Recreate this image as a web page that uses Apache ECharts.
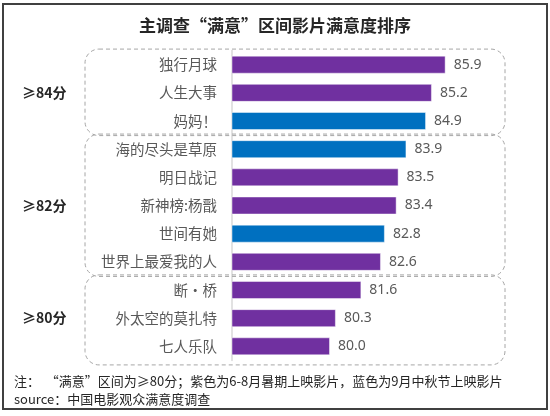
<!DOCTYPE html>
<html lang="zh-CN">
<head>
    <meta charset="UTF-8">
    <title>主调查满意区间影片满意度排序</title>
    <script src="https://cdn.jsdelivr.net/npm/echarts@6/dist/echarts.min.js"></script>
    <style>
        html, body { margin: 0; padding: 0; background: #fff; }
        #container { width: 550px; height: 416px; }
    </style>
</head>
<body>
<div id="container"></div>
<script type="text/javascript">
    // 影片（从上到下）
    const films = ['独行月球', '人生大事', '妈妈！', '海的尽头是草原', '明日战记', '新神榜:杨戬',
        '世间有她', '世界上最爱我的人', '断·桥', '外太空的莫扎特', '七人乐队'];
    // 满意度得分
    const scores = [85.9, 85.2, 84.9, 83.9, 83.5, 83.4, 82.8, 82.6, 81.6, 80.3, 80.0];
    // 上映档期：summer = 6-8月暑期，autumn = 9月中秋节
    const periods = ['summer', 'summer', 'autumn', 'autumn', 'summer', 'summer',
        'autumn', 'summer', 'summer', 'summer', 'summer'];
    // 分段：名称、起止行号
    const groupNames = ['≥84分', '≥82分', '≥80分'];
    const groupStart = [0, 3, 8];
    const groupEnd = [2, 7, 10];

    const periodColor = {summer: '#7030A0', autumn: '#0070C0'};
    const CJK = '"Noto Sans CJK SC", "Noto Sans", sans-serif';

    let dom = document.getElementById('container');
    let myChart = echarts.init(dom, null, {renderer: 'canvas'});

    let option = {
        animation: false,
        backgroundColor: '#fff',
        title: {
            text: '主调查“满意”区间影片满意度排序',
            left: 'center',
            top: 12,
            textStyle: {fontFamily: CJK, fontSize: 17, fontWeight: 'bold', color: '#262626'}
        },
        grid: {left: 232, right: 24, top: 50.6, bottom: 416 - 360.4, containLabel: false},
        xAxis: {
            type: 'value',
            min: 75,
            max: 90,
            show: false
        },
        yAxis: {
            type: 'category',
            inverse: true,
            data: films,
            axisLine: {show: true, lineStyle: {color: '#d9d9d9', width: 1.5}},
            axisTick: {show: false},
            axisLabel: {fontFamily: CJK, fontSize: 14.5, color: '#595959', margin: 15}
        },
        series: [{
            type: 'bar',
            barWidth: 18,
            data: scores.map((v, i) => ({
                value: v,
                itemStyle: {color: periodColor[periods[i]]}
            })),
            itemStyle: {borderColor: 'rgba(255,255,255,0.45)', borderWidth: 1},
            label: {
                show: true,
                position: 'right',
                distance: 8,
                formatter: p => p.value.toFixed(1),
                fontFamily: '"Noto Sans", sans-serif',
                fontSize: 14,
                color: '#595959'
            }
        }]
    };
    myChart.setOption(option);

    // 分段虚线框和分段标签，位置从类目轴换算
    let graphic = [];
    groupNames.forEach((name, g) => {
        let y0 = myChart.convertToPixel({yAxisIndex: 0}, groupStart[g]);
        let y1 = myChart.convertToPixel({yAxisIndex: 0}, groupEnd[g]);
        let half = 14.1;
        let top = y0 - half - (g === 0 ? 1.5 : 1);
        let bottom = y1 + half + (g === groupNames.length - 1 ? 4.5 : 0.5);
        graphic.push({
            type: 'rect',
            shape: {x: 85, y: top, width: 420, height: bottom - top, r: 14},
            style: {fill: 'none', stroke: '#a6a6a6', lineWidth: 1, lineDash: [4, 3]},
            z: 1
        });
        graphic.push({
            type: 'text',
            x: 22,
            y: (y0 + y1) / 2,
            style: {
                text: name, fontFamily: CJK, fontSize: 14, fontWeight: 'bold',
                fill: '#262626', textVerticalAlign: 'middle'
            }
        });
    });
    // 注释与来源
    graphic.push({
        type: 'text', x: 14, y: 381,
        style: {
            text: '注：  “满意”区间为≥80分；紫色为6-8月暑期上映影片，蓝色为9月中秋节上映影片',
            fontFamily: CJK, fontSize: 13, fill: '#262626', textVerticalAlign: 'middle'
        }
    });
    graphic.push({
        type: 'text', x: 14, y: 399,
        style: {
            text: 'source：中国电影观众满意度调查',
            fontFamily: CJK, fontSize: 13, fill: '#262626', textVerticalAlign: 'middle'
        }
    });
    // 外框
    graphic.push({
        type: 'rect',
        shape: {x: 3, y: 4, width: 544, height: 405},
        style: {fill: 'none', stroke: '#404040', lineWidth: 2},
        z: 10
    });
    myChart.setOption({graphic: graphic});
</script>
</body>
</html>
